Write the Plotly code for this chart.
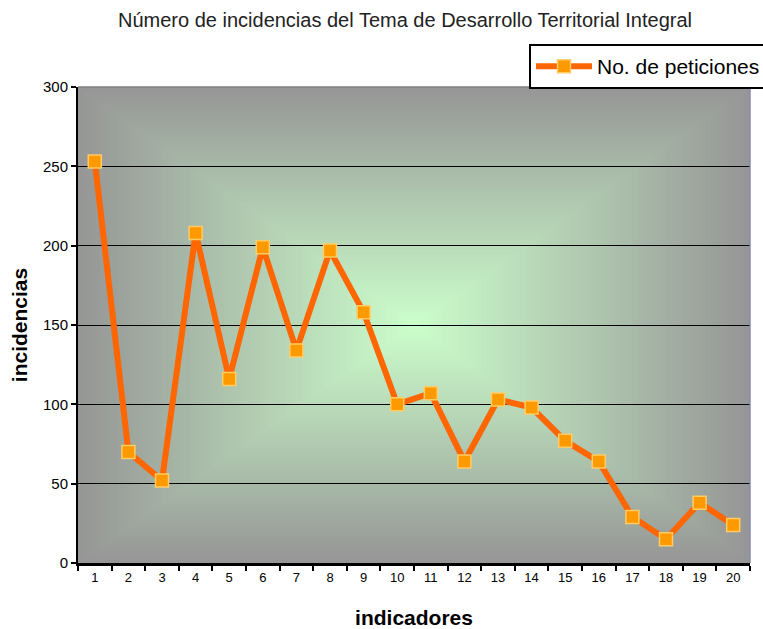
import plotly.graph_objs as go

indicadores = [str(i) for i in range(1, 21)]
peticiones = [253, 70, 52, 208, 116, 199, 134, 197, 158, 100,
              107, 64, 103, 98, 77, 64, 29, 15, 38, 24]

y_ticks = [0, 50, 100, 150, 200, 250, 300]

# rectangular "from center" gradient, gray edges -> pale green middle
edge = (150, 150, 150)
center = (204, 255, 204)
n_steps = 60
shapes = []
for i in range(n_steps):
    t = i / n_steps
    c = tuple(round(edge[k] + (center[k] - edge[k]) * t) for k in range(3))
    shapes.append(dict(
        type="rect", xref="x domain", yref="y domain",
        x0=t / 2, x1=1 - t / 2, y0=t / 2, y1=1 - t / 2,
        fillcolor="rgb(%d,%d,%d)" % c, line=dict(width=0), layer="below",
    ))
shapes.append(dict(type="line", xref="x domain", yref="y domain",
                   x0=0, x1=1, y0=1, y1=1, line=dict(color="#808080", width=1.5)))
shapes.append(dict(type="line", xref="x domain", yref="y domain",
                   x0=1, x1=1, y0=0, y1=1, line=dict(color="#8a8ab0", width=1.5)))

fig = go.Figure(
    go.Scatter(
        x=indicadores,
        y=peticiones,
        mode="lines+markers",
        name="No. de peticiones",
        line=dict(color="#ff6600", width=6),
        marker=dict(symbol="square", size=13, color="#ff9900",
                    line=dict(color="#ffcc66", width=1.5)),
    )
)

fig.update_layout(
    width=763,
    height=629,
    margin=dict(l=78, r=13, t=87, b=66, autoexpand=False),
    paper_bgcolor="white",
    plot_bgcolor="#969696",
    font=dict(family="Liberation Sans, Arial", color="black", size=12),
    title=dict(
        text="Número de incidencias del Tema de Desarrollo Territorial Integral",
        x=118 / 763, xanchor="left", xref="container",
        y=1 - 20 / 629, yanchor="middle", yref="container",
        font=dict(size=20, color="#222222"),
    ),
    showlegend=True,
    legend=dict(
        x=(529 - 78) / 672, xanchor="left",
        y=(563 - 44) / 476, yanchor="top",
        bgcolor="white", bordercolor="black", borderwidth=2,
        font=dict(size=21), itemwidth=56,
    ),
    shapes=shapes,
)

fig.update_xaxes(
    type="category",
    range=[-0.5, 19.5],
    tickson="boundaries",
    ticks="outside", ticklen=5, tickwidth=2, tickcolor="black",
    showline=True, linecolor="black", linewidth=3,
    showgrid=False,
    tickfont=dict(size=13),
    title=dict(text="<b>indicadores</b>", font=dict(size=21), standoff=28),
)
fig.update_yaxes(
    range=[0, 300],
    tickvals=y_ticks,
    ticks="outside", ticklen=5, tickwidth=2, tickcolor="black",
    showline=True, linecolor="black", linewidth=2,
    showgrid=True, gridcolor="black", gridwidth=1,
    zeroline=False,
    tickfont=dict(size=15),
    title=dict(text="<b>incidencias</b>", font=dict(size=21), standoff=10),
)

fig.write_html("out.html", config={"displayModeBar": False},
               post_script="document.body.style.margin='0';")
